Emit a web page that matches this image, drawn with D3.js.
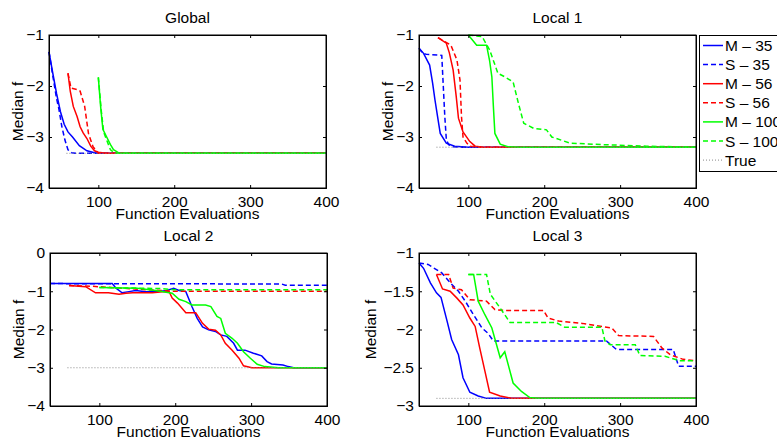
<!DOCTYPE html>
<html>
<head>
<meta charset="utf-8">
<script src="https://cdn.jsdelivr.net/npm/d3@7"></script>
<style>
body { margin: 0; background: #fff; }
text { font-family: "Liberation Sans", Arial, sans-serif; }
</style>
</head>
<body>
<script>
// series: [function evaluations, median f]
const globalM35 = [[35,-1.33],[40,-1.75],[45,-2.15],[50,-2.5],[55,-2.75],[60,-2.9],[66,-3.0],[75,-3.17],[85,-3.27],[95,-3.31],[105,-3.32],[400,-3.32]];
const globalS35 = [[35,-1.33],[40,-1.8],[45,-2.25],[48,-2.45],[52,-2.8],[56,-3.06],[60,-3.25],[65,-3.31],[70,-3.32],[400,-3.32]];
const globalM56 = [[60,-1.75],[63,-2.1],[67,-2.4],[72,-2.6],[76,-2.8],[80,-2.92],[85,-3.03],[90,-3.18],[95,-3.27],[100,-3.3],[110,-3.32],[400,-3.32]];
const globalS56 = [[60,-1.75],[64,-2.04],[72,-2.07],[76,-2.1],[82,-2.4],[87,-2.93],[93,-3.19],[100,-3.32],[400,-3.32]];
const globalM100 = [[100,-1.83],[103,-2.4],[106,-2.85],[111,-3.0],[116,-3.15],[120,-3.25],[128,-3.32],[400,-3.32]];
const globalS100 = [[100,-1.83],[104,-2.5],[107,-2.9],[111,-3.06],[116,-3.25],[122,-3.32],[400,-3.32]];

const local1M35 = [[35,-1.26],[41,-1.36],[49,-1.59],[53,-1.95],[56,-2.27],[60,-2.65],[63,-2.93],[71,-3.12],[82,-3.18],[100,-3.2],[400,-3.2]];
const local1S35 = [[35,-1.26],[40,-1.36],[45,-1.38],[65,-1.4],[67,-2.0],[69,-2.6],[71,-3.05],[74,-3.15],[80,-3.19],[90,-3.2],[400,-3.2]];
const local1M56 = [[60,-1.05],[71,-1.16],[75,-1.35],[80,-1.69],[84,-2.2],[87,-2.63],[93,-2.9],[102,-3.09],[109,-3.18],[120,-3.2],[400,-3.2]];
const local1S56 = [[60,-1.05],[77,-1.2],[85,-1.49],[89,-1.88],[91,-2.6],[93,-3.0],[98,-3.12],[103,-3.18],[115,-3.2],[400,-3.2]];
const local1M100 = [[100,-1.0],[111,-1.2],[124,-1.2],[128,-1.5],[131,-1.82],[133,-2.4],[135,-2.93],[142,-3.14],[152,-3.19],[170,-3.2],[400,-3.2]];
const local1S100 = [[100,-1.0],[118,-1.03],[128,-1.29],[139,-1.75],[148,-1.82],[159,-1.92],[166,-2.34],[173,-2.73],[186,-2.83],[203,-2.86],[210,-3.0],[234,-3.12],[278,-3.15],[335,-3.18],[400,-3.2]];

const local2M35 = [[35,-0.8],[117,-0.8],[122,-0.92],[130,-1.04],[139,-1.01],[148,-0.98],[161,-1.01],[174,-1.01],[187,-0.99],[198,-0.92],[205,-0.98],[214,-1.01],[222,-1.4],[229,-1.71],[236,-1.93],[244,-2.01],[253,-2.05],[260,-2.14],[268,-2.18],[277,-2.36],[282,-2.54],[292,-2.54],[303,-2.62],[314,-2.69],[321,-2.84],[327,-2.9],[342,-2.93],[349,-2.97],[356,-3.0],[400,-3.0]];
const local2S35 = [[35,-0.8],[340,-0.81],[345,-0.84],[400,-0.84]];
const local2M56 = [[60,-0.85],[82,-0.88],[95,-1.04],[112,-1.04],[126,-1.08],[135,-1.05],[144,-1.04],[170,-1.04],[183,-1.01],[192,-1.01],[196,-1.18],[203,-1.31],[214,-1.56],[227,-1.56],[236,-1.84],[244,-1.99],[253,-2.02],[260,-2.14],[266,-2.36],[275,-2.54],[284,-2.75],[290,-2.95],[301,-3.0],[400,-3.0]];
const local2S56 = [[60,-0.85],[90,-0.87],[130,-0.92],[170,-0.97],[200,-1.0],[400,-1.0]];
const local2M100 = [[100,-0.9],[150,-0.92],[174,-0.98],[196,-1.05],[205,-1.21],[214,-1.27],[222,-1.36],[240,-1.36],[247,-1.4],[255,-1.66],[260,-1.71],[266,-2.1],[275,-2.23],[282,-2.36],[290,-2.58],[299,-2.75],[308,-2.91],[318,-2.97],[336,-3.0],[400,-3.0]];
const local2S100 = [[100,-0.9],[180,-0.93],[200,-0.96],[400,-0.96]];

const local3M35 = [[35,-1.13],[41,-1.2],[50,-1.39],[58,-1.52],[64,-1.58],[72,-1.89],[78,-2.13],[87,-2.33],[93,-2.63],[102,-2.82],[113,-2.87],[124,-2.9],[400,-2.9]];
const local3S35 = [[35,-1.13],[47,-1.15],[65,-1.26],[78,-1.41],[87,-1.5],[96,-1.63],[107,-1.81],[118,-1.98],[126,-2.05],[133,-2.15],[282,-2.15],[295,-2.26],[370,-2.26],[377,-2.48],[400,-2.48]];
const local3M56 = [[58,-1.28],[66,-1.47],[76,-1.5],[85,-1.59],[93,-1.68],[102,-1.85],[109,-1.96],[115,-2.24],[122,-2.55],[128,-2.82],[142,-2.87],[157,-2.9],[400,-2.9]];
const local3S56 = [[58,-1.28],[74,-1.28],[80,-1.46],[91,-1.48],[102,-1.61],[124,-1.63],[135,-1.74],[146,-1.75],[199,-1.75],[205,-1.85],[219,-1.89],[250,-1.92],[289,-1.98],[298,-2.08],[344,-2.09],[355,-2.24],[366,-2.33],[383,-2.39],[400,-2.41]];
const local3M100 = [[100,-1.28],[107,-1.28],[113,-1.63],[122,-1.81],[131,-1.98],[142,-2.37],[148,-2.29],[159,-2.7],[170,-2.81],[181,-2.89],[192,-2.9],[400,-2.9]];
const local3S100 = [[100,-1.28],[124,-1.28],[129,-1.54],[142,-1.72],[155,-1.91],[216,-1.91],[227,-1.97],[276,-1.97],[280,-2.15],[287,-2.2],[320,-2.2],[326,-2.34],[359,-2.35],[372,-2.39],[378,-2.41],[400,-2.41]];

const titles = ["Global", "Local 1", "Local 2", "Local 3"];
const trueValues = [-3.32, -3.2, -3.0, -2.9];
const trueRange = [58, 400];
const xTicks = [100, 200, 300, 400];
const yDomains = [[-4, -1], [-4, -1], [-4, 0], [-3, -1]];
const yTickSets = [[-4, -3, -2, -1], [-4, -3, -2, -1], [-4, -3, -2, -1, 0], [-3, -2.5, -2, -1.5, -1]];
const legendLabels = ["M \u2013 35", "S \u2013 35", "M \u2013 56", "S \u2013 56", "M \u2013 100", "S \u2013 100", "True"];
const seriesColors = ["#0000ff", "#0000ff", "#ff0000", "#ff0000", "#00ff00", "#00ff00"];
const seriesDashed = [false, true, false, true, false, true];

const panelData = [
  [globalM35, globalS35, globalM56, globalS56, globalM100, globalS100],
  [local1M35, local1S35, local1M56, local1S56, local1M100, local1S100],
  [local2M35, local2S35, local2M56, local2S56, local2M100, local2S100],
  [local3M35, local3S35, local3M56, local3S56, local3M100, local3S100]
];

// axes boxes [left, top, right, bottom]
const boxes = [[49, 35, 326, 188], [419, 35, 696, 188], [50, 253, 327, 406], [419, 253, 696, 406]];

const svg = d3.select("body").append("svg")
    .attr("width", 777)
    .attr("height", 443);

const fmt = d => (d < 0 ? "\u2212" : "") + Math.abs(d);
const FS = "15.5px";

boxes.forEach((b, i) => {
    const [L, T, R, B] = b;
    const x = d3.scaleLinear().domain([35, 400]).range([L, R]);
    const y = d3.scaleLinear().domain(yDomains[i]).range([B, T]);
    const g = svg.append("g");

    const line = d3.line().x(d => x(d[0])).y(d => y(d[1]));

    panelData[i].forEach((s, k) => {
        g.append("path")
            .attr("d", line(s))
            .attr("fill", "none")
            .attr("stroke", seriesColors[k])
            .attr("stroke-width", 1.5)
            .attr("stroke-dasharray", seriesDashed[k] ? "5,3" : null);
    });

    // true value, dotted
    g.append("path")
        .attr("d", line(trueRange.map(v => [v, trueValues[i]])))
        .attr("fill", "none")
        .attr("stroke", "#888")
        .attr("stroke-width", 1)
        .attr("stroke-dasharray", "1,2");

    // axes, ticks inward on all four sides
    const tl = 3;
    g.append("g").attr("transform", `translate(0,${B})`)
        .call(d3.axisBottom(x).tickValues(xTicks).tickSize(-tl).tickPadding(8).tickFormat(fmt));
    g.append("g").attr("transform", `translate(0,${T})`)
        .call(d3.axisTop(x).tickValues(xTicks).tickSize(-tl).tickFormat(""));
    g.append("g").attr("transform", `translate(${L},0)`)
        .call(d3.axisLeft(y).tickValues(yTickSets[i]).tickSize(-tl).tickPadding(5).tickFormat(fmt));
    g.append("g").attr("transform", `translate(${R},0)`)
        .call(d3.axisRight(y).tickValues(yTickSets[i]).tickSize(-tl).tickFormat(""));

    g.selectAll(".domain").attr("stroke", "#000").attr("stroke-width", 1);
    g.selectAll(".tick line").attr("stroke", "#000");
    g.selectAll(".tick text").attr("fill", "#000").style("font-size", FS)
        .style("font-family", "'Liberation Sans', Arial, sans-serif");

    g.append("rect")
        .attr("x", L).attr("y", T).attr("width", R - L).attr("height", B - T)
        .attr("fill", "none").attr("stroke", "#000").attr("stroke-width", 1);

    svg.append("text")
        .attr("x", (L + R) / 2).attr("y", T - 12.5)
        .attr("text-anchor", "middle").style("font-size", FS)
        .text(titles[i]);

    svg.append("text")
        .attr("x", (L + R) / 2).attr("y", B + 31)
        .attr("text-anchor", "middle").style("font-size", FS)
        .text("Function Evaluations");

    const labelX = i === 3 ? L - 43 : L - 26;
    svg.append("text")
        .attr("transform", `translate(${labelX},${(T + B) / 2}) rotate(-90)`)
        .attr("text-anchor", "middle").style("font-size", FS)
        .text("Median f");
});

// legend beside Local 1
const lg = svg.append("g");
lg.append("rect")
    .attr("x", 699.5).attr("y", 35.5).attr("width", 100).attr("height", 136)
    .attr("fill", "#fff").attr("stroke", "#000").attr("stroke-width", 1);

legendLabels.forEach((lab, k) => {
    const cy = 45.5 + k * 19.1;
    const isTrue = k === 6;
    lg.append("line")
        .attr("x1", 703).attr("x2", 723).attr("y1", cy).attr("y2", cy)
        .attr("stroke", isTrue ? "#888" : seriesColors[k])
        .attr("stroke-width", isTrue ? 1 : 1.5)
        .attr("stroke-dasharray", isTrue ? "1,2" : (seriesDashed[k] ? "5,3" : null));
    lg.append("text")
        .attr("x", 725).attr("y", cy + 5.5)
        .style("font-size", FS)
        .text(lab);
});
</script>
</body>
</html>
